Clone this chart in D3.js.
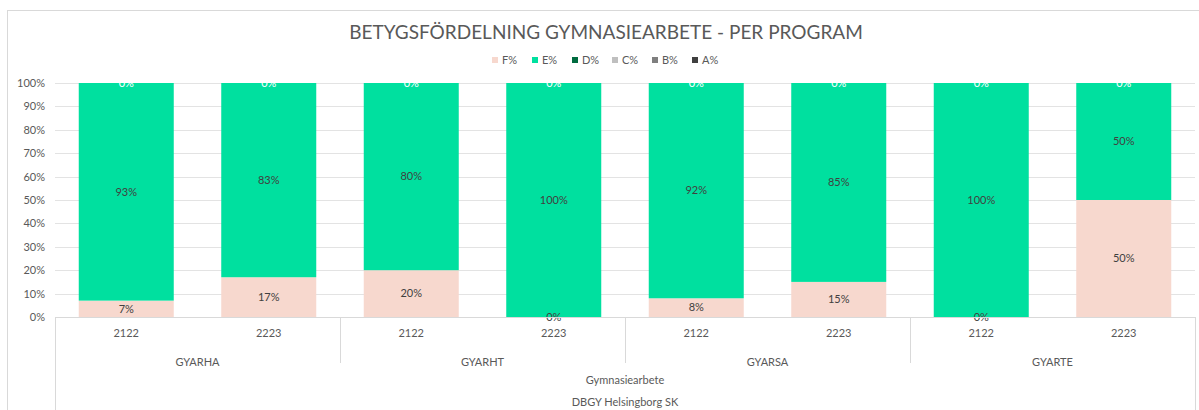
<!DOCTYPE html>
<html>
<head>
<meta charset="utf-8">
<script src="https://cdn.jsdelivr.net/npm/d3@7"></script>
<style>
  body { margin: 0; background: #fff; }
  text { font-family: "Lato", "DejaVu Sans", sans-serif; }
</style>
</head>
<body>
<div id="chart"></div>
<script>
// Data
var programs = ["GYARHA", "GYARHT", "GYARSA", "GYARTE"];
var years = ["2122", "2223"];
var seriesNames = ["F%", "E%", "D%", "C%", "B%", "A%"];
var seriesColors = ["#F7D8CE", "#00E09F", "#006B40", "#BFBFBF", "#7F7F7F", "#404040"];
var fValues = [7, 17, 20, 0, 8, 15, 0, 50];
var eValues = [93, 83, 80, 100, 92, 85, 100, 50];
var dValues = [0, 0, 0, 0, 0, 0, 0, 0];
var cValues = [0, 0, 0, 0, 0, 0, 0, 0];
var bValues = [0, 0, 0, 0, 0, 0, 0, 0];
var aValues = [0, 0, 0, 0, 0, 0, 0, 0];
var yTicks = [0, 10, 20, 30, 40, 50, 60, 70, 80, 90, 100];
var chartTitle = "BETYGSFÖRDELNING GYMNASIEARBETE - PER PROGRAM";
var axisTitle1 = "Gymnasiearbete";
var axisTitle2 = "DBGY Helsingborg SK";

//SVG area dimensions
var svgWidth = 1199;
var svgHeight = 410;

var plot = { left: 55, right: 1195, top: 83, bottom: 317 };

var svg = d3.select("#chart")
  .append("svg")
  .attr("width", svgWidth)
  .attr("height", svgHeight);

// chart frame
svg.append("rect")
  .attr("x", 7.5).attr("y", 10.5)
  .attr("width", 1210).attr("height", 430)
  .attr("fill", "#fff")
  .attr("stroke", "#D9D9D9");

// build rows
var rows = [];
programs.forEach(function(p, i) {
  years.forEach(function(y, j) {
    var k = i * years.length + j;
    rows.push({ key: p + "|" + y, program: p, year: y,
      vals: [fValues[k], eValues[k], dValues[k], cValues[k], bValues[k], aValues[k]] });
  });
});

var xScale = d3.scaleBand()
  .domain(rows.map(d => d.key))
  .range([plot.left, plot.right])
  .paddingInner(1 / 3)
  .paddingOuter(1 / 6);

var yScale = d3.scaleLinear()
  .domain([0, 100])
  .range([plot.bottom, plot.top]);

// gridlines
svg.append("g").selectAll("line")
  .data(yTicks.filter(t => t > 0))
  .enter().append("line")
  .attr("x1", plot.left).attr("x2", plot.right)
  .attr("y1", d => Math.round(yScale(d)) + 0.5)
  .attr("y2", d => Math.round(yScale(d)) + 0.5)
  .attr("stroke", "#E3E3E3");

// y axis labels
var leftAxis = d3.axisLeft(yScale).tickValues(yTicks).tickFormat(d => d + "%").tickSize(0).tickPadding(10);
var yAxisG = svg.append("g")
  .attr("transform", `translate(${plot.left}, 0)`)
  .call(leftAxis);
yAxisG.select(".domain").remove();
yAxisG.selectAll("text")
  .attr("font-size", 11)
  .attr("fill", "#595959")
  .style("font-family", "Lato, sans-serif");

// stacked bars
var stack = d3.stack()
  .keys(d3.range(seriesNames.length))
  .value((d, k) => d.vals[k]);
var stacked = stack(rows);

var barGroups = svg.append("g").selectAll("g")
  .data(stacked)
  .enter().append("g")
  .attr("fill", (d, i) => seriesColors[i]);

barGroups.selectAll("rect")
  .data(d => d)
  .enter().append("rect")
  .attr("x", d => xScale(d.data.key))
  .attr("width", xScale.bandwidth())
  .attr("y", d => yScale(d[1]))
  .attr("height", d => yScale(d[0]) - yScale(d[1]));

// value labels for F, E and D
var labelColors = ["#404040", "#404040", "#FFFFFF"];
[0, 1, 2].forEach(function(s) {
  svg.append("g").selectAll("text")
    .data(stacked[s])
    .enter().append("text")
    .attr("x", d => xScale(d.data.key) + xScale.bandwidth() / 2)
    .attr("y", d => yScale((d[0] + d[1]) / 2))
    .attr("dy", "0.35em")
    .attr("text-anchor", "middle")
    .attr("font-size", 11)
    .attr("fill", labelColors[s])
    .text(d => (d[1] - d[0]) + "%");
});

// category axis box
var axisG = svg.append("g").attr("stroke", "#D9D9D9").attr("fill", "none");
axisG.append("line")
  .attr("x1", plot.left).attr("x2", plot.right + 0.5)
  .attr("y1", plot.bottom + 0.5).attr("y2", plot.bottom + 0.5);
axisG.append("line")
  .attr("x1", plot.left + 0.5).attr("x2", plot.left + 0.5)
  .attr("y1", plot.bottom).attr("y2", svgHeight);
axisG.append("line")
  .attr("x1", plot.right + 0.5).attr("x2", plot.right + 0.5)
  .attr("y1", plot.bottom).attr("y2", svgHeight);

var step = xScale.step();
var groupEdge = function(i) { return xScale(rows[i * years.length].key) - xScale.paddingInner() * step / 2; };
programs.slice(1).forEach(function(p, i) {
  var gx = Math.round(groupEdge(i + 1)) + 0.5;
  axisG.append("line")
    .attr("x1", gx).attr("x2", gx)
    .attr("y1", plot.bottom).attr("y2", 363);
});

// year labels
svg.append("g").selectAll("text")
  .data(rows)
  .enter().append("text")
  .attr("x", d => xScale(d.key) + xScale.bandwidth() / 2)
  .attr("y", 337)
  .attr("text-anchor", "middle")
  .attr("font-size", 11)
  .attr("fill", "#595959")
  .text(d => d.year);

// program labels
svg.append("g").selectAll("text")
  .data(programs)
  .enter().append("text")
  .attr("x", (d, i) => {
    var a = xScale(rows[i * years.length].key);
    var b = xScale(rows[i * years.length + years.length - 1].key) + xScale.bandwidth();
    return (a + b) / 2;
  })
  .attr("y", 366)
  .attr("text-anchor", "middle")
  .attr("font-size", 11)
  .attr("fill", "#595959")
  .text(d => d);

svg.append("text")
  .attr("x", (plot.left + plot.right) / 2).attr("y", 384)
  .attr("text-anchor", "middle")
  .attr("font-size", 11)
  .attr("fill", "#595959")
  .text(axisTitle1);

svg.append("text")
  .attr("x", (plot.left + plot.right) / 2).attr("y", 406)
  .attr("text-anchor", "middle")
  .attr("font-size", 11)
  .attr("fill", "#595959")
  .text(axisTitle2);

// title
svg.append("text")
  .attr("x", 606).attr("y", 39)
  .attr("text-anchor", "middle")
  .attr("font-size", 19)
  .attr("fill", "#595959")
  .text(chartTitle);

// legend
var legend = svg.append("g").selectAll("g")
  .data(seriesNames)
  .enter().append("g")
  .attr("transform", (d, i) => `translate(${492 + i * 40}, 60)`);
legend.append("rect")
  .attr("x", 0).attr("y", -3)
  .attr("width", 6).attr("height", 6)
  .attr("fill", (d, i) => seriesColors[i]);
legend.append("text")
  .attr("x", 10).attr("y", 0)
  .attr("dy", "0.35em")
  .attr("font-size", 11)
  .attr("fill", "#595959")
  .text(d => d);
</script>
</body>
</html>
